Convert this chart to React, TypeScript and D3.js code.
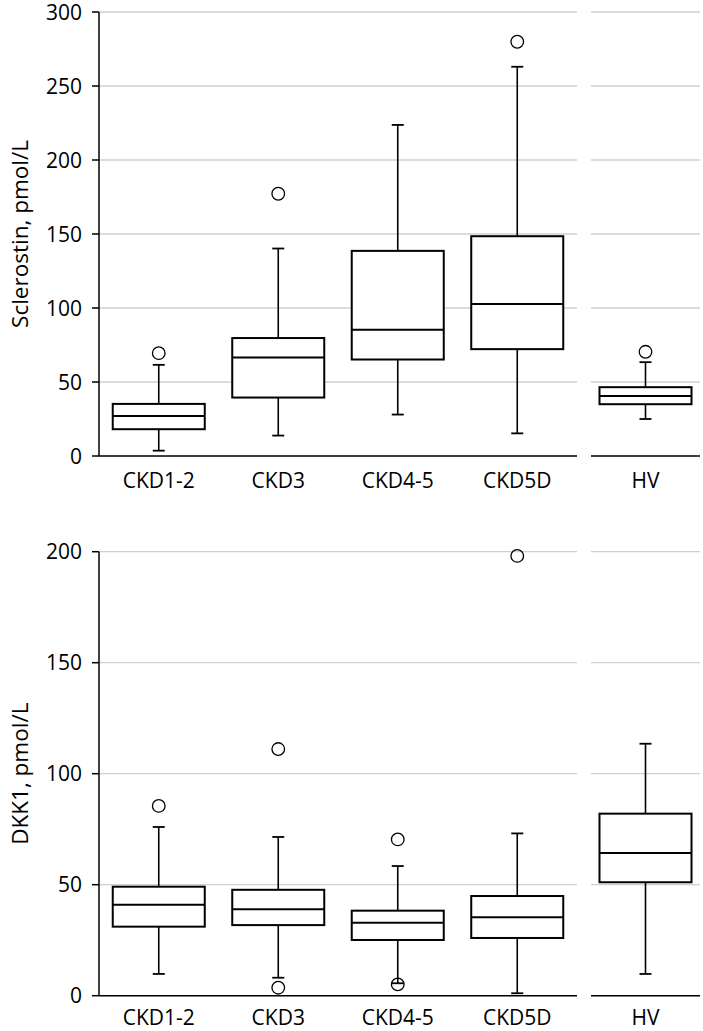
import React from "react";
import * as d3 from "d3";

// ---- data ----
const mainCategories = ["CKD1-2", "CKD3", "CKD4-5", "CKD5D"];
const sideCategories = ["HV"];

// Sclerostin (pmol/L): [lowerWhisker, q1, median, q3, upperWhisker]
const sclerostinStats: number[][] = [
  [3.6, 18.1, 27.1, 35.2, 61.6],
  [13.8, 39.5, 66.6, 79.7, 140.2],
  [28, 65.2, 85.3, 138.6, 223.7],
  [15.3, 72.2, 102.7, 148.5, 263],
  [25, 35, 40.6, 46.5, 63.4],
];
const sclerostinOutliers: number[][] = [[69.5], [177.2], [], [279.9], [70.4]];
const sclerostinTicks = [0, 50, 100, 150, 200, 250, 300];

// DKK1 (pmol/L)
const dkk1Stats: number[][] = [
  [9.8, 31.1, 41, 49.1, 76],
  [8.1, 31.8, 38.9, 47.7, 71.5],
  [5.6, 25.1, 32.9, 38.3, 58.4],
  [1.1, 26, 35.3, 44.9, 73.1],
  [9.8, 51.1, 64.3, 82, 113.5],
];
const dkk1Outliers: number[][] = [[85.5], [111.1, 3.6], [70.4, 5.1], [198.1], []];
const dkk1Ticks = [0, 50, 100, 150, 200];

const FONT = "'Open Sans', 'DejaVu Sans', sans-serif";

type PanelProps = {
  stats: number[][];
  outliers: number[][];
  ticks: number[];
  yMax: number;
  top: number;
  bottom: number;
  title: string;
  labelOffset: number;
};

const mainX = d3
  .scaleBand<string>()
  .domain(mainCategories)
  .range([99, 577])
  .paddingInner(0.23)
  .paddingOuter(0.115);
const sideX = d3.scaleBand<string>().domain(sideCategories).range([591, 700]).padding(0);
const boxW = mainX.bandwidth();
const capW = 12;

function centerOf(i: number): number {
  if (i < mainCategories.length) {
    const c = mainCategories[i];
    return (mainX(c) as number) + mainX.bandwidth() / 2;
  }
  const c = sideCategories[i - mainCategories.length];
  return (sideX(c) as number) + sideX.bandwidth() / 2;
}

function Panel({ stats, outliers, ticks, yMax, top, bottom, title, labelOffset }: PanelProps) {
  const y = d3.scaleLinear().domain([0, yMax]).range([bottom, top]);
  const allCats = [...mainCategories, ...sideCategories];
  const [mx0, mx1] = mainX.range();
  const [sx0, sx1] = sideX.range();
  return (
    <g>
      {/* gridlines */}
      {ticks
        .filter((t) => t > 0)
        .map((t) => (
          <g key={"g" + t}>
            <line x1={mx0} x2={mx1} y1={y(t)} y2={y(t)} stroke="#d0d0d0" strokeWidth={1.3} />
            <line x1={sx0} x2={sx1} y1={y(t)} y2={y(t)} stroke="#d0d0d0" strokeWidth={1.3} />
          </g>
        ))}
      {/* y axis */}
      <line x1={mx0} x2={mx0} y1={y(yMax)} y2={y(0)} stroke="#000" strokeWidth={1.5} />
      {ticks.map((t) => (
        <g key={"t" + t}>
          <line x1={mx0 - 7} x2={mx0} y1={y(t)} y2={y(t)} stroke="#000" strokeWidth={1.5} />
          <text
            x={82}
            y={y(t)}
            dy="0.36em"
            textAnchor="end"
            fontFamily={FONT}
            fontSize={21}
            fill="#000"
          >
            {t}
          </text>
        </g>
      ))}
      {/* x axes */}
      <line x1={mx0} x2={mx1} y1={y(0)} y2={y(0)} stroke="#000" strokeWidth={1.5} />
      <line x1={sx0} x2={sx1} y1={y(0)} y2={y(0)} stroke="#000" strokeWidth={1.5} />
      {allCats.map((c, i) => (
        <text
          key={"l" + c}
          x={centerOf(i)}
          y={y(0) + labelOffset}
          textAnchor="middle"
          fontFamily={FONT}
          fontSize={21}
          fill="#000"
        >
          {c}
        </text>
      ))}
      {/* axis title */}
      <text
        transform={`translate(28,${(top + bottom) / 2}) rotate(-90)`}
        textAnchor="middle"
        fontFamily={FONT}
        fontSize={22.5}
        fill="#000"
      >
        {title}
      </text>
      {/* boxes */}
      {stats.map((s, i) => {
        const cx = centerOf(i);
        const [lo, q1, med, q3, hi] = s;
        return (
          <g key={"b" + i}>
            <line x1={cx} x2={cx} y1={y(q3)} y2={y(hi)} stroke="#000" strokeWidth={1.6} />
            <line x1={cx} x2={cx} y1={y(q1)} y2={y(lo)} stroke="#000" strokeWidth={1.6} />
            <line x1={cx - capW / 2} x2={cx + capW / 2} y1={y(hi)} y2={y(hi)} stroke="#000" strokeWidth={1.8} />
            <line x1={cx - capW / 2} x2={cx + capW / 2} y1={y(lo)} y2={y(lo)} stroke="#000" strokeWidth={1.8} />
            <rect
              x={cx - boxW / 2}
              y={y(q3)}
              width={boxW}
              height={y(q1) - y(q3)}
              fill="#fff"
              stroke="#000"
              strokeWidth={2}
            />
            <line x1={cx - boxW / 2} x2={cx + boxW / 2} y1={y(med)} y2={y(med)} stroke="#000" strokeWidth={2} />
            {outliers[i].map((o, k) => (
              <circle key={k} cx={cx} cy={y(o)} r={6.3} fill="none" stroke="#000" strokeWidth={1.3} />
            ))}
          </g>
        );
      })}
    </g>
  );
}

export default function App() {
  return (
    <div style={{ position: "absolute", left: 0, top: 0 }}>
      <svg width={703} height={1031} style={{ display: "block", background: "#fff" }}>
        <Panel
          stats={sclerostinStats}
          outliers={sclerostinOutliers}
          ticks={sclerostinTicks}
          yMax={300}
          top={12}
          bottom={456}
          title="Sclerostin, pmol/L"
          labelOffset={32}
        />
        <Panel
          stats={dkk1Stats}
          outliers={dkk1Outliers}
          ticks={dkk1Ticks}
          yMax={200}
          top={551.7}
          bottom={995.7}
          title="DKK1, pmol/L"
          labelOffset={29}
        />
      </svg>
    </div>
  );
}
